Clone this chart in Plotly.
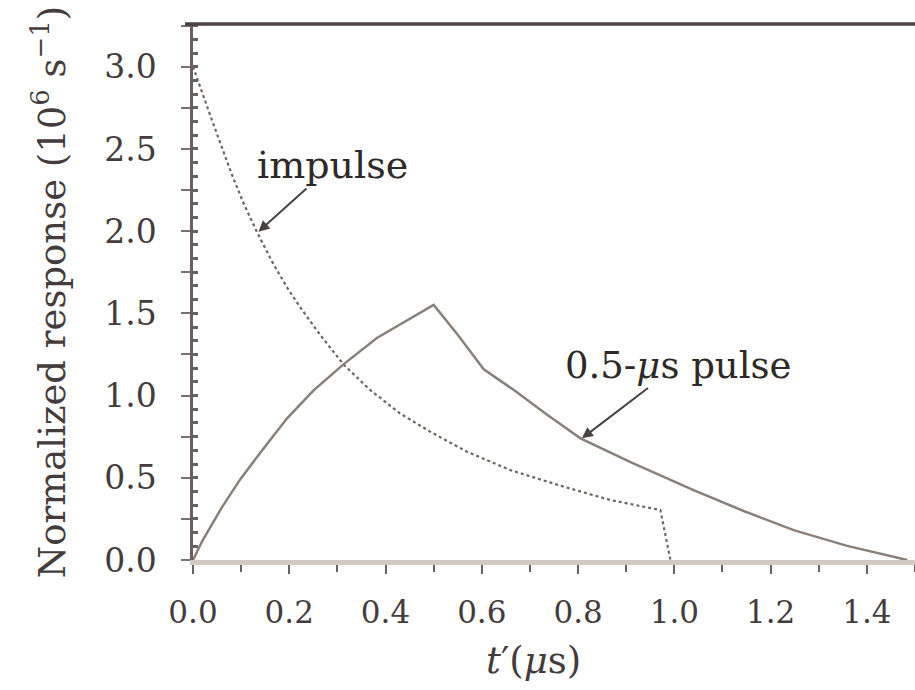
import plotly.graph_objects as go

# impulse response (dotted)
impulse_t = [0.0, 0.02, 0.04, 0.06, 0.08, 0.105, 0.132, 0.167, 0.195, 0.222, 0.264, 0.3125,
             0.368, 0.430, 0.493, 0.569, 0.659, 0.770, 0.867, 0.971, 0.992]
impulse_r = [3.0, 2.83, 2.67, 2.51, 2.35, 2.17, 2.0, 1.80, 1.66, 1.54, 1.37, 1.19,
             1.034, 0.892, 0.78, 0.659, 0.547, 0.446, 0.365, 0.304, 0.0]

# 0.5-us pulse response (solid)
pulse_t = [0.0, 0.02, 0.06, 0.098, 0.139, 0.195, 0.250, 0.3125, 0.382, 0.451, 0.500,
           0.55, 0.604, 0.666, 0.735, 0.805, 0.909, 0.971, 1.040, 1.144, 1.248, 1.359, 1.456, 1.484]
pulse_r = [0.0, 0.12, 0.32, 0.49, 0.65, 0.86, 1.03, 1.19, 1.35, 1.47, 1.551,
           1.37, 1.16, 1.035, 0.885, 0.74, 0.595, 0.515, 0.425, 0.298, 0.182, 0.086, 0.022, 0.0]

FONT = "DejaVu Serif"
TXT = "#443c3c"
AXC = "#6a6060"

fig = go.Figure()
fig.add_trace(go.Scatter(x=impulse_t, y=impulse_r, mode="lines",
                         line=dict(color="#6e6460", width=2.2, dash="dot"),
                         cliponaxis=False, showlegend=False))
fig.add_trace(go.Scatter(x=pulse_t, y=pulse_r, mode="lines",
                         line=dict(color="#8a807a", width=2.5),
                         cliponaxis=False, showlegend=False))

fig.update_layout(
    width=915, height=690,
    margin=dict(l=193, r=0, t=24, b=130),
    paper_bgcolor="white", plot_bgcolor="white",
    font=dict(family=FONT, color=TXT),
    xaxis=dict(range=[0, 1.5], showgrid=False, zeroline=False,
               showline=True, linecolor="#d2cac2", linewidth=5,
               tick0=0, dtick=0.2, tickformat=".1f",
               ticks="outside", ticklen=9, tickwidth=2, tickcolor=AXC,
               minor=dict(ticks="outside", dtick=0.1, ticklen=7, tickwidth=2, tickcolor=AXC),
               tickfont=dict(size=31, family=FONT, color=TXT),
               ticklabelstandoff=12),
    yaxis=dict(range=[0, 3.26], showgrid=False, zeroline=False,
               showline=True, linecolor=AXC, linewidth=2.5,
               tick0=0, dtick=0.5, tickformat=".1f",
               ticks="outside", ticklen=9, tickwidth=2, tickcolor="#7a706b",
               minor=dict(ticks="outside", dtick=0.25, ticklen=9, tickwidth=2, tickcolor="#7a706b"),
               tickfont=dict(size=33, family=FONT, color=TXT),
               ticklabelstandoff=18,
               title=dict(text="Normalized response (10<sup>6</sup> s<sup>−1</sup>)",
                          font=dict(size=37, family=FONT, color=TXT), standoff=28)),
    yaxis2=dict(range=[0, 3.26], overlaying="y", side="left", showgrid=False, zeroline=False,
                showline=False, showticklabels=False, tick0=0, dtick=0.5 / 6,
                ticks="inside", ticklen=5, tickwidth=3, tickcolor=AXC),
)

# invisible trace bound to the overlay axis so its inside ticks are drawn
fig.add_trace(go.Scatter(x=[None], y=[None], yaxis="y2", showlegend=False, hoverinfo="skip"))

# top border line
fig.add_shape(type="line", xref="paper", yref="paper", x0=-0.011, x1=1.0, y0=1.0, y1=1.0,
              line=dict(color="#4a4242", width=3.5))

# x-axis title
fig.add_annotation(xref="paper", yref="paper", x=(533 - 193) / 722, y=-(660 - 560) / 536,
                   xanchor="center", yanchor="middle",
                   text="<i>t</i>′(<i>μ</i>s)", showarrow=False,
                   font=dict(size=37, family=FONT, color=TXT))

# labels with arrows
fig.add_annotation(x=0.136, y=1.997, ax=0.290, ay=2.403, axref="x", ayref="y",
                   text="impulse", showarrow=True, arrowhead=2, arrowsize=1.1,
                   arrowwidth=2, arrowcolor="#4a4242", standoff=0,
                   font=dict(size=38, family=FONT, color="#2e2828"))
fig.add_annotation(x=0.808, y=0.740, ax=1.008, ay=1.186, axref="x", ayref="y",
                   text="0.5-<i>μ</i>s pulse", showarrow=True, arrowhead=2, arrowsize=1.1,
                   arrowwidth=2, arrowcolor="#4a4242", standoff=0,
                   font=dict(size=37, family=FONT, color="#2e2828"))

fig.write_html("out.html")
